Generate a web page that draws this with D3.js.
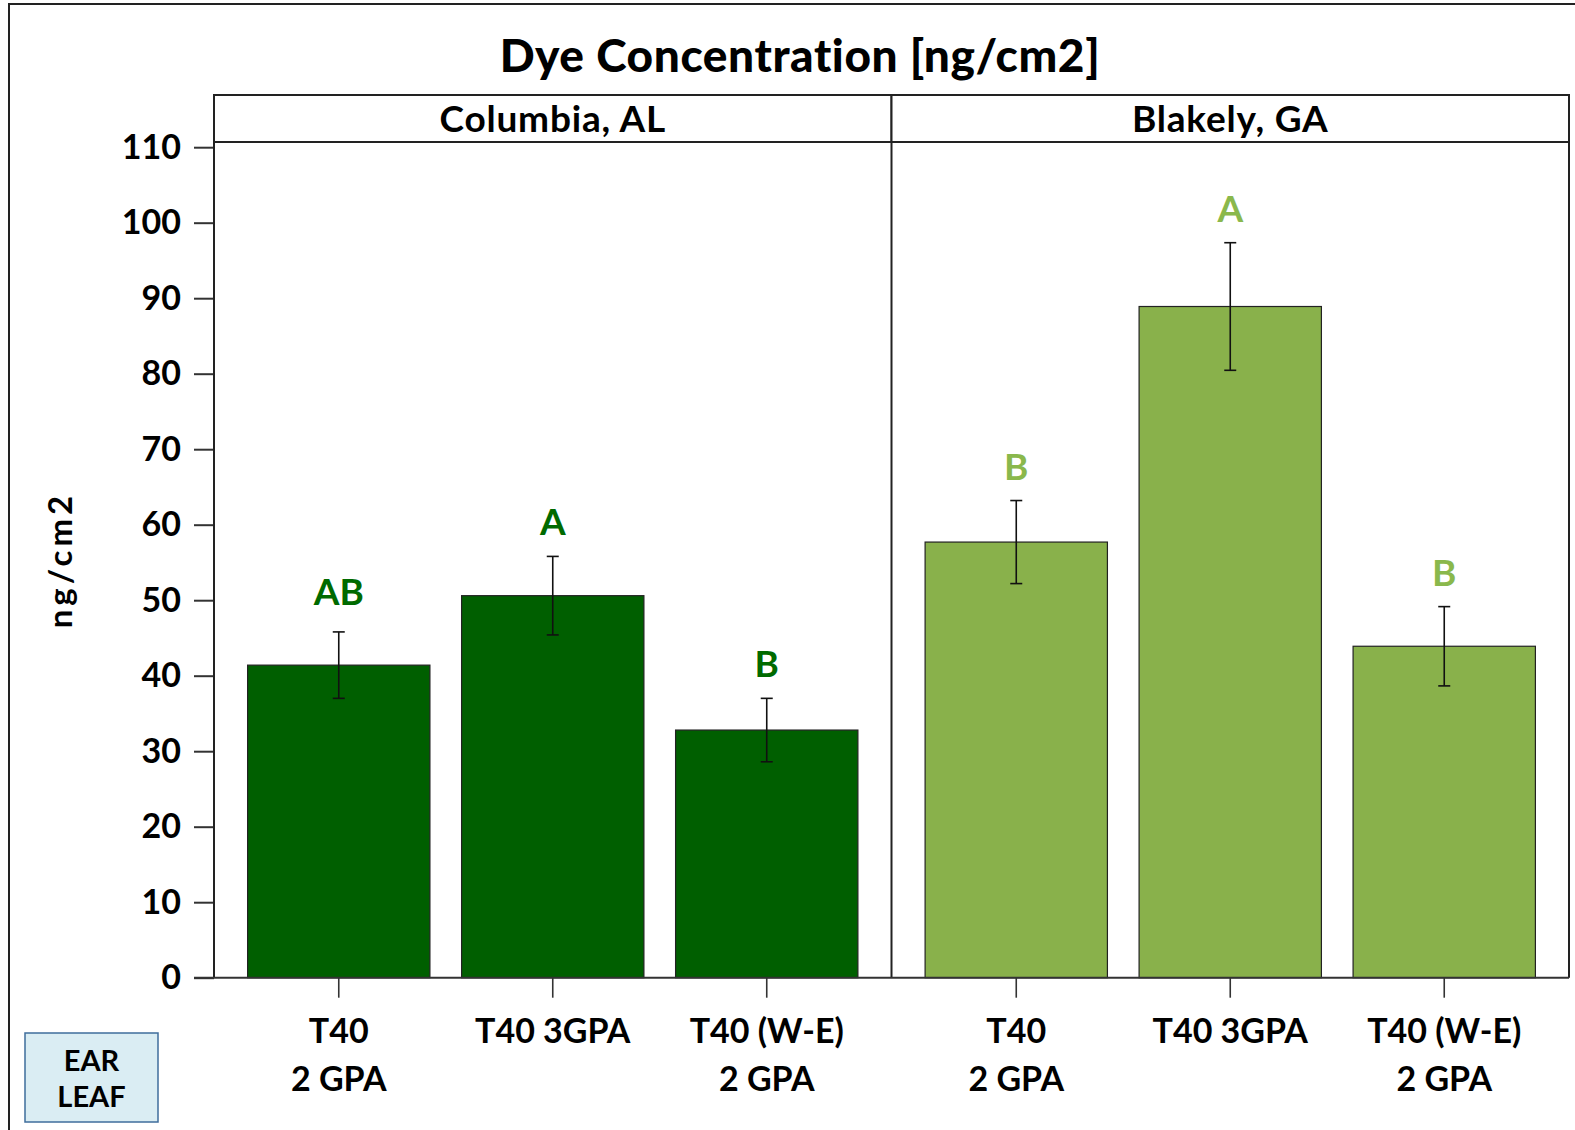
<!DOCTYPE html>
<html>
<head>
<meta charset="utf-8">
<script src="https://cdn.jsdelivr.net/npm/d3@7"></script>
<style>
  html, body { margin: 0; padding: 0; background: #fff; }
  svg { display: block; }
  text { font-family: Lato, "Open Sans", sans-serif; font-weight: 700; fill: #000; }
</style>
</head>
<body>
<svg id="chart" width="1575" height="1130"></svg>
<script>
// Sites (facet panels) and treatments (bars inside each panel)
const sites = ["Columbia, AL", "Blakely, GA"];
const treatments = ["T40|2 GPA", "T40 3GPA", "T40 (W-E)|2 GPA"];

// Mean dye concentration (ng/cm2) per site, in treatment order
const columbiaMeans = [41.4, 50.6, 32.8];
const blakelyMeans  = [57.7, 88.9, 43.9];

// Half-width of the error bars (ng/cm2)
const columbiaErr = [4.4, 5.2, 4.2];
const blakelyErr  = [5.5, 8.45, 5.25];

// Mean-separation letters
const columbiaLetters = ["AB", "A", "B"];
const blakelyLetters  = ["B", "A", "B"];

// Y axis ticks
const yTicks = [0, 10, 20, 30, 40, 50, 60, 70, 80, 90, 100, 110];

const siteColors  = ["#005f00", "#89b14b"];
const letterColors = ["#006a00", "#8ab84c"];

const panels = [
  { site: sites[0], means: columbiaMeans, err: columbiaErr, letters: columbiaLetters },
  { site: sites[1], means: blakelyMeans,  err: blakelyErr,  letters: blakelyLetters }
];

const svg = d3.select("#chart");

const plotLeft = 214, plotRight = 1569;
const stripTop = 95, stripBottom = 142;

const y = d3.scaleLinear().domain([0, 110]).range([977.7, 147.2]);
const facet = d3.scaleBand().domain(sites).range([plotLeft, plotRight]);

// Outer frame
svg.append("rect")
  .attr("x", 9).attr("y", 4)
  .attr("width", 1600).attr("height", 1200)
  .attr("fill", "none").attr("stroke", "#222").attr("stroke-width", 2);

// Title
svg.append("text")
  .attr("x", 800).attr("y", 72)
  .attr("text-anchor", "middle")
  .style("font-size", "46px")
  .style("font-weight", 900)
  .style("letter-spacing", "0.6px")
  .text("Dye Concentration [ng/cm2]");

// Y axis title
svg.append("text")
  .attr("transform", "translate(72,560) rotate(-90)")
  .attr("text-anchor", "middle")
  .style("font-size", "33px")
  .style("letter-spacing", "4px")
  .text("ng/cm2");

// Y axis with ticks on the left edge of the first panel
const yAxis = svg.append("g")
  .attr("transform", `translate(${plotLeft},0)`)
  .call(d3.axisLeft(y).tickValues(yTicks).tickSize(20).tickPadding(13).tickSizeOuter(0));
yAxis.select(".domain").remove();
yAxis.selectAll(".tick line").attr("stroke", "#333").attr("stroke-width", 2);
yAxis.selectAll(".tick text")
  .style("font-size", "34px")
  .style("font-family", "Lato, sans-serif")
  .style("font-weight", 700)
  .attr("fill", "#000");

panels.forEach((p, i) => {
  const x0 = facet(p.site);
  const x = d3.scaleBand()
    .domain(treatments)
    .range([x0, x0 + facet.bandwidth()])
    .paddingInner(0.148)
    .paddingOuter(0.157);

  const g = svg.append("g");

  // Strip header
  g.append("rect")
    .attr("x", x0).attr("y", stripTop)
    .attr("width", facet.bandwidth()).attr("height", stripBottom - stripTop)
    .attr("fill", "#fff").attr("stroke", "#222").attr("stroke-width", 2);
  g.append("text")
    .attr("x", x0 + facet.bandwidth() / 2).attr("y", 132)
    .attr("text-anchor", "middle")
    .style("font-size", "37px")
    .style("letter-spacing", "0.8px")
    .text(p.site);

  // Bars
  g.selectAll("rect.bar")
    .data(p.means)
    .join("rect")
    .attr("class", "bar")
    .attr("x", (d, j) => x(treatments[j]))
    .attr("y", d => y(d))
    .attr("width", x.bandwidth())
    .attr("height", d => y(0) - y(d))
    .attr("fill", siteColors[i])
    .attr("stroke", "#222")
    .attr("stroke-width", 1.2);

  // Error bars
  const cx = j => x(treatments[j]) + x.bandwidth() / 2;
  const eb = g.selectAll("g.err")
    .data(p.means.map((m, j) => ({ m, e: p.err[j], j })))
    .join("g").attr("class", "err")
    .attr("stroke", "#111").attr("stroke-width", 1.6);
  eb.append("line")
    .attr("x1", d => cx(d.j)).attr("x2", d => cx(d.j))
    .attr("y1", d => y(d.m + d.e)).attr("y2", d => y(d.m - d.e));
  eb.append("line")
    .attr("x1", d => cx(d.j) - 6).attr("x2", d => cx(d.j) + 6)
    .attr("y1", d => y(d.m + d.e)).attr("y2", d => y(d.m + d.e));
  eb.append("line")
    .attr("x1", d => cx(d.j) - 6).attr("x2", d => cx(d.j) + 6)
    .attr("y1", d => y(d.m - d.e)).attr("y2", d => y(d.m - d.e));

  // Letters above the error bars
  g.selectAll("text.letter")
    .data(p.letters)
    .join("text")
    .attr("class", "letter")
    .attr("x", (d, j) => cx(j))
    .attr("y", (d, j) => y(p.means[j] + p.err[j]) - 21 - (d.length > 1 ? 6 : 0))
    .attr("text-anchor", "middle")
    .style("font-size", "37px")
    .style("fill", letterColors[i])
    .text(d => d);

  // Panel frame (left and right edges)
  g.append("line")
    .attr("x1", x0).attr("x2", x0)
    .attr("y1", stripBottom).attr("y2", y(0))
    .attr("stroke", "#222").attr("stroke-width", 2);
  if (i === panels.length - 1) {
    g.append("line")
      .attr("x1", x0 + facet.bandwidth()).attr("x2", x0 + facet.bandwidth())
      .attr("y1", stripBottom).attr("y2", y(0))
      .attr("stroke", "#222").attr("stroke-width", 2);
  }

  // X axis ticks and two-line labels
  const xAxis = g.append("g")
    .attr("transform", `translate(0,${y(0)})`)
    .call(d3.axisBottom(x).tickSize(20).tickSizeOuter(0).tickFormat(""));
  xAxis.select(".domain").remove();
  xAxis.selectAll(".tick line").attr("stroke", "#333").attr("stroke-width", 1.6);

  treatments.forEach(t => {
    const lines = t.split("|");
    const tx = g.append("text")
      .attr("x", cx(treatments.indexOf(t)))
      .attr("y", 1043)
      .attr("text-anchor", "middle")
      .style("font-size", "34px");
    lines.forEach((ln, k) => {
      tx.append("tspan")
        .attr("x", cx(treatments.indexOf(t)))
        .attr("dy", k === 0 ? 0 : 48)
        .text(ln);
    });
  });
});

// Baseline across both panels
svg.append("line")
  .attr("x1", plotLeft - 20).attr("x2", plotRight)
  .attr("y1", y(0)).attr("y2", y(0))
  .attr("stroke", "#333").attr("stroke-width", 2);

// Sample-type box in the lower-left corner
svg.append("rect")
  .attr("x", 25).attr("y", 1033)
  .attr("width", 133).attr("height", 89)
  .attr("fill", "#daedf3").attr("stroke", "#3f6d9c").attr("stroke-width", 1.5);
svg.append("text")
  .attr("x", 91.5).attr("y", 1071)
  .attr("text-anchor", "middle")
  .style("font-size", "29px")
  .text("EAR");
svg.append("text")
  .attr("x", 91.5).attr("y", 1107)
  .attr("text-anchor", "middle")
  .style("font-size", "29px")
  .text("LEAF");
</script>
</body>
</html>
